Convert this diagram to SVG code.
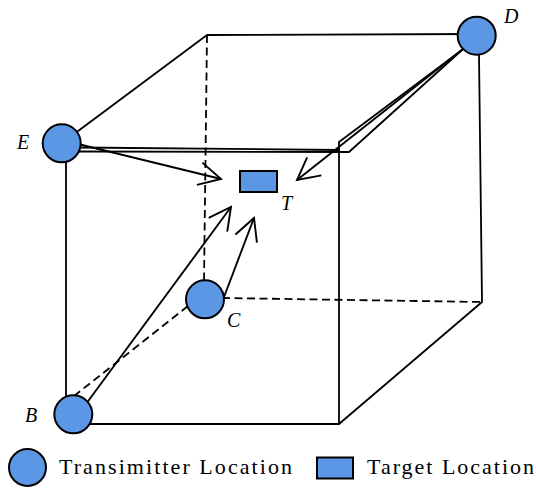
<svg xmlns="http://www.w3.org/2000/svg" width="536" height="489" viewBox="0 0 536 489">
<defs>
<style>
.edge{fill:none;stroke:#000;stroke-width:1.8;stroke-linecap:round;stroke-linejoin:round}
.dash{fill:none;stroke:#000;stroke-width:1.8;stroke-dasharray:8 4.5}
.arrow{fill:none;stroke:#000;stroke-width:1.9;marker-end:url(#open)}
.node{fill:#5b97e5;stroke:#000;stroke-width:2}
.lbl{font-family:"Liberation Serif","Times New Roman",serif;font-style:italic;font-size:20px;fill:#000}
.leg{font-family:"Liberation Serif","Times New Roman",serif;font-size:22px;fill:#000}
</style>
<marker id="open" markerUnits="userSpaceOnUse" markerWidth="30" markerHeight="30" refX="0" refY="0" viewBox="-26 -14 30 28" orient="auto">
<path d="M-22,-11.5 L0,0 L-22,11.5" fill="none" stroke="#000" stroke-width="1.9" stroke-linejoin="miter"/>
</marker>
</defs>
<g id="connectors">
<path class="edge" d="M62,143 L207,35 L477,34"/>
<path class="dash" d="M207,35 L204,282"/>
<path class="dash" d="M222,298 L482,302"/>
<path class="dash" d="M188,306 L74,396"/>
<path class="edge" d="M479,55 L482,302 L339,424 L73,424"/>
<path class="edge" d="M66,150 L66,396"/>
<path class="edge" d="M339,424 L339,142 L462,50"/>
<path class="edge" d="M78,147.5 L339,150"/>
<path class="edge" d="M78,151.5 L349,152 L462,50"/>
<path class="arrow" d="M78,144 L221,179"/>
<path class="arrow" d="M463,49 L297,180"/>
<path class="arrow" d="M86,404 L231,207"/>
<path class="arrow" d="M224,297 L254,218"/>
</g>
<g id="node-E"><circle class="node" cx="61.7" cy="143.3" r="19"/><text class="lbl" x="17" y="149">E</text></g>
<g id="node-D"><circle class="node" cx="476.7" cy="35.7" r="19"/><text class="lbl" x="504" y="23">D</text></g>
<g id="node-C"><circle class="node" cx="205" cy="299.3" r="19"/><text class="lbl" x="227" y="327">C</text></g>
<g id="node-B"><circle class="node" cx="73.3" cy="414.3" r="19"/><text class="lbl" x="25" y="422">B</text></g>
<g id="node-T"><rect class="node" x="240" y="171" width="37" height="21" stroke-width="1.8"/><text class="lbl" x="281" y="210">T</text></g>
<g id="legend">
<circle class="node" cx="27.5" cy="467.5" r="18.5"/>
<text class="leg" x="59" y="474" textLength="233" lengthAdjust="spacing">Transimitter Location</text>
<rect class="node" x="317" y="457.5" width="36" height="21" stroke-width="1.8"/>
<text class="leg" x="367" y="474" textLength="167" lengthAdjust="spacing">Target Location</text>
</g>
</svg>
